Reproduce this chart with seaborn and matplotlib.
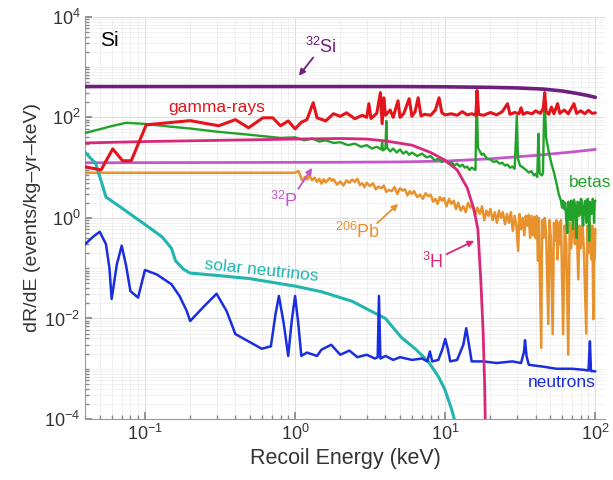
import numpy as np
import pandas as pd
import matplotlib
matplotlib.use('Agg')
import matplotlib.pyplot as plt
import seaborn as sns
from matplotlib.ticker import FixedLocator, LogFormatterMathtext, NullFormatter

# ---------------- data (keV, events/kg-yr-keV) ----------------
si32_E = [0.04, 5, 10, 20, 30, 45, 60, 75, 90, 100]
si32_R = [410, 410, 405, 395, 385, 365, 335, 300, 270, 250]

h3_E = [0.04, 0.1, 1, 2, 3, 4, 6, 8, 10, 12, 14, 15.5, 16.5, 17.3, 17.9, 18.3, 18.55]
h3_R = [31, 33, 37, 38, 37, 34, 28, 20, 14, 9, 4, 1.5, 0.6, 0.05, 0.005, 0.0005, 0.00005]

p32_E = [0.04, 2, 5, 10, 20, 40, 70, 100]
p32_R = [12.5, 12.8, 13, 13.5, 15, 17.5, 20.5, 23]

pb_E = [0.04, 1.0, 1.05, 1.08, 1.1, 1.13, 1.16, 1.2, 1.25, 1.3, 1.35, 1.4, 1.45, 1.5, 1.55,
        1.6, 1.7, 1.75, 1.8, 1.9, 2.0, 2.1, 2.2, 2.3, 2.4, 2.5, 2.6, 2.7, 2.8, 2.9, 3.0,
        3.15, 3.3, 3.45, 3.6, 3.75, 3.9, 4.05, 4.2, 4.4, 4.6, 4.8, 5.0, 5.2, 5.4, 5.6, 5.8,
        6.0, 6.2, 6.5, 6.8, 7.1, 7.4, 7.7, 8.0, 8.3, 8.6, 8.9, 9.2, 9.5, 9.8,
        10.2, 10.6, 11.0, 11.4, 11.8, 12.2, 12.7, 13.2, 13.7, 14.2, 14.7, 15.2, 15.8, 16.4,
        17.0, 17.6, 18.2, 18.8, 19.4, 20.0, 20.7, 21.4, 22.1, 22.8, 23.5, 24.2, 25.0, 25.8,
        26.6, 27.4, 28.2, 29.0, 29.8, 30.6, 31.2, 32.0, 32.8, 33.6, 34.4, 35.2, 36.0, 36.8,
        37.6, 38.4, 39.2, 40.0, 40.7, 41.5, 42, 43.6, 44.2, 45, 46, 47, 48.6, 49.5, 50.5,
        52, 53, 54, 55, 56, 57, 58, 59, 61, 62.5, 64, 66, 67.5, 69, 71, 73, 75, 77, 78.5,
        80, 82, 84, 87, 88.5, 90, 92, 94, 95.5, 97, 98, 99, 100]
pb_R = [7.9, 7.9, 8.6, 7.2, 6.0, 5.4, 6.5, 5.8, 6.9, 5.6, 6.3, 5.2, 6.0, 4.8, 5.9,
        5.1, 6.2, 5.5, 5.9, 4.6, 5.3, 4.4, 5.6, 5.0, 5.8, 5.2, 6.0, 4.5, 4.9, 4.1, 5.0,
        4.3, 4.9, 3.7, 4.2, 3.9, 4.4, 3.3, 3.6, 3.4, 4.1, 3.0, 3.9, 3.5, 3.7, 2.8, 3.4,
        3.0, 3.4, 2.6, 2.9, 2.4, 3.1, 2.7, 2.9, 2.1, 2.4, 1.9, 2.6, 2.2, 2.5,
        1.7, 2.4, 1.9, 2.2, 1.5, 2.0, 1.4, 1.7, 1.3, 2.0, 1.6, 1.9, 1.1, 1.6,
        1.2, 1.7, 0.9, 1.4, 1.1, 1.5, 0.9, 1.3, 0.8, 1.4, 1.0, 1.3, 0.75, 1.2,
        0.8, 1.3, 0.55, 1.1, 0.7, 0.22, 1.2, 0.6, 1.0, 0.45, 1.1, 0.7, 1.15, 0.4,
        1.1, 0.45, 1.05, 0.4, 1.1, 0.14, 1.0, 0.0026, 0.9, 0.4, 1.0, 0.5, 0.0077, 0.9, 0.4,
        0.0049, 0.8, 0.35, 0.9, 0.15, 0.8, 0.3, 0.9, 0.0049, 0.7, 0.3, 0.0019, 0.8, 0.25, 0.9,
        0.3, 0.8, 0.06, 0.7, 0.25, 0.8, 0.2, 0.005, 0.7, 0.2, 0.8, 0.15, 0.7, 0.0097, 0.6,
        0.15, 0.6]

beta_E = [0.04, 0.05, 0.06, 0.075, 0.1, 0.15, 0.2, 0.3, 0.5, 0.8, 1.0, 1.15, 1.3, 1.45, 1.6,
          1.8, 2.0, 2.25, 2.5, 2.75, 3.0, 3.25, 3.5, 3.75, 3.8, 3.85, 4.0, 4.05, 4.1, 4.3,
          4.5, 4.75, 5, 5.25, 5.5, 5.75, 6, 6.5, 7, 7.5, 8, 8.5, 9, 9.5, 10, 10.5, 11, 11.5,
          12, 12.5, 13, 13.5, 14, 14.5, 15, 15.9, 16.2, 16.5, 17.5, 18, 19, 20, 21, 22, 23,
          24, 25, 26, 27, 28, 29, 30.0, 30.5, 31.5, 33, 34.5, 36, 37.5, 39, 40, 41, 41.8,
          42.5, 43, 44, 44.8, 45.8, 47, 49, 51, 53, 55, 57, 59, 60, 61, 62, 63, 64, 65, 66,
          67, 68, 69, 70, 71, 72, 73, 74, 75, 76, 77, 78, 79, 80, 81, 82, 83, 84, 85, 86, 87,
          88, 89, 90, 91, 92, 93, 94, 95, 96, 97, 98, 99, 100]
beta_R = [49, 58, 67, 78, 74, 65, 60, 52, 45, 39, 40, 35, 38, 33, 35,
          31, 32, 28, 30, 26, 28, 24, 26, 23, 32, 22, 24, 85, 25, 21,
          24, 20, 23, 19, 21, 18, 20, 17, 19, 16, 17, 14, 15, 13, 14, 12, 13, 11,
          12, 10.5, 11.5, 10, 10.5, 9, 10, 9, 340, 25, 18, 19, 15, 14.5, 13, 13.5, 12,
          12.5, 11, 11.5, 10, 10.5, 9.5, 107, 15, 11, 10, 9, 8, 8.5, 7, 7.5, 6.5, 47,
          8, 7.5, 7, 7.8, 310, 40, 20, 12, 8, 5, 3, 2.2, 1.6, 2.2, 1.5, 2.0, 0.9, 0.5, 2.1,
          1.8, 0.9, 2.2, 1.4, 0.6, 2.3, 1.9, 1.0, 0.4, 2.1, 2.0, 1.1, 1.2, 2.4, 2.3, 0.9, 0.7,
          1.6, 2.1, 2.2, 0.8,
          1.0, 2.4, 1.6, 0.35, 2.1, 2.0, 1.2, 1.3, 2.4, 2.2, 0.8, 2.0, 2.2]

gam_E = [0.04, 0.051, 0.061, 0.071, 0.081, 0.102, 0.2, 0.31, 0.4, 0.49, 0.61, 0.71, 0.8,
         0.9, 1.0, 1.1, 1.2, 1.32, 1.4, 1.6, 1.8, 2.0, 2.2, 2.5, 2.8, 3.0, 3.1, 3.2, 3.5,
         3.7, 3.8, 3.9, 4.0, 4.3, 4.5, 4.85, 5.0, 5.3, 5.75, 6.0, 6.3, 6.6, 6.9, 7.3, 8.0,
         8.6, 9.1, 9.5, 10, 11, 12, 13, 14, 15, 16.0, 16.3, 16.7, 18, 20, 22, 24, 26, 27,
         29, 31, 32, 33, 35, 38, 40, 43, 45, 46, 47, 49, 51, 53, 56, 58, 62, 66, 72, 75,
         80, 85, 90, 95, 100]
gam_R = [10.4, 9.0, 23.6, 13.7, 13.7, 71, 86, 68, 90, 62, 98, 98, 68,
         85, 59, 80, 90, 196, 98, 85, 118, 105, 123, 94, 110, 100, 187, 95, 120,
         310, 75, 245, 110, 140, 100, 214, 100, 120, 235, 105, 130, 245, 107, 115, 110,
         140, 245, 123, 112, 118, 110, 130, 112, 118, 110, 340, 115, 110, 125, 112, 130, 187, 115,
         125, 118, 155, 115, 125, 118, 135, 120, 150, 310, 130, 115, 160, 118, 187, 120, 140, 118, 187, 120,
         135, 118, 138, 120, 123]

sol_E = [0.04, 0.047, 0.051, 0.055, 0.07, 0.1, 0.13, 0.15, 0.16, 0.18, 0.2, 0.3, 0.5, 1.0,
         1.5, 2.4, 3.0, 4.0, 5.1, 6.3, 7.7, 9.0, 9.9, 11, 11.5, 12.2]
sol_R = [20, 12, 5.5, 2.6, 1.58, 0.74, 0.42, 0.25, 0.14, 0.096, 0.08, 0.072, 0.062, 0.044,
         0.034, 0.022, 0.0155, 0.01, 0.0042, 0.0025, 0.0014, 0.0007, 0.0004, 0.00016, 0.0001, 0.00005]

neu_E = [0.04, 0.045, 0.05, 0.055, 0.058, 0.06, 0.065, 0.07, 0.075, 0.08, 0.09, 0.1, 0.12,
         0.15, 0.17, 0.19, 0.2, 0.25, 0.3, 0.35, 0.4, 0.6, 0.69, 0.74, 0.78, 0.84, 0.9,
         0.95, 1.0, 1.05, 1.1, 1.2, 1.4, 1.5, 1.74, 2.0, 2.3, 2.6, 3.0, 3.4, 3.55, 3.62,
         3.7, 4.0, 4.5, 5, 6, 7, 7.6, 7.9, 8.2, 9, 9.6, 10, 10.4, 10.8, 12, 13.2, 13.8,
         14.4, 15, 18, 22, 28, 32, 33.5, 34, 34.8, 36, 45, 55, 70, 85, 90, 92, 93.5, 100]
neu_R = [0.3, 0.42, 0.53, 0.3, 0.1, 0.0245, 0.12, 0.28, 0.11, 0.035, 0.026, 0.092, 0.075,
         0.048, 0.028, 0.014, 0.0089, 0.018, 0.031, 0.014, 0.0049, 0.0025, 0.0028, 0.012, 0.028,
         0.008, 0.0018, 0.009, 0.028, 0.008, 0.0018, 0.0021, 0.0018, 0.0024, 0.003, 0.0019,
         0.0023, 0.0017, 0.0019, 0.0016, 0.0017, 0.028, 0.0016, 0.0018, 0.0015, 0.0017, 0.0015,
         0.0016, 0.0014, 0.0022, 0.0014, 0.0015, 0.0025, 0.0039, 0.0025, 0.0014, 0.0015, 0.003,
         0.0064, 0.003, 0.0014, 0.0014, 0.0013, 0.0014, 0.0013, 0.0022, 0.0037, 0.0018, 0.0012,
         0.0011, 0.001, 0.001, 0.00095, 0.00092, 0.0035, 0.0009, 0.00089]

x_ticks = [0.1, 1, 10, 100]
y_ticks = [1e-4, 1e-2, 1, 1e2, 1e4]

# ---------------- style ----------------
sns.set_theme(style='ticks')
plt.rcParams['font.family'] = ['Liberation Sans', 'DejaVu Sans']
plt.rcParams['mathtext.fontset'] = 'custom'
plt.rcParams['mathtext.rm'] = 'Liberation Sans'
plt.rcParams['mathtext.it'] = 'Liberation Sans:italic'
plt.rcParams['mathtext.bf'] = 'Liberation Sans:bold'

fig = plt.figure(figsize=(6.13, 4.8), dpi=100)
ax = fig.add_axes([0.139, 0.127, 0.848, 0.838])
ax.set_xscale('log')
ax.set_yscale('log')

C_SI = '#6e1f7c'
C_G = '#e3141b'
C_B = '#22a22a'
C_H = '#d8287a'
C_P = '#c455cc'
C_PB = '#e8922e'
C_SOL = '#22b5b0'
C_N = '#1a2ee0'


def draw(E, R, color, lw, z):
    df = pd.DataFrame({'E': E, 'R': R})
    sns.lineplot(data=df, x='E', y='R', ax=ax, color=color, linewidth=lw,
                 estimator=None, sort=False, zorder=z)


draw(pb_E, pb_R, C_PB, 1.8, 3)
draw(p32_E, p32_R, C_P, 2.0, 3.5)
draw(sol_E, sol_R, C_SOL, 2.2, 4)
draw(neu_E, neu_R, C_N, 1.8, 5)
draw(beta_E, beta_R, C_B, 1.7, 6)
draw(h3_E, h3_R, C_H, 2.0, 7)
draw(gam_E, gam_R, C_G, 2.2, 8)
draw(si32_E, si32_R, C_SI, 2.6, 9)

ax.set_xlim(0.04, 116)
ax.set_ylim(1e-4, 1e4)

ax.xaxis.set_major_locator(FixedLocator(x_ticks))
ax.yaxis.set_major_locator(FixedLocator(y_ticks))
ax.xaxis.set_major_formatter(LogFormatterMathtext())
ax.yaxis.set_major_formatter(LogFormatterMathtext())
xminor = [m * 10.0 ** k for k in range(-2, 3) for m in range(2, 10)]
yminor = [m * 10.0 ** k for k in range(-5, 5) for m in range(1, 10) if not (m == 1 and k % 2 == 0)]
ax.xaxis.set_minor_locator(FixedLocator(xminor))
ax.yaxis.set_minor_locator(FixedLocator(yminor))
ax.xaxis.set_minor_formatter(NullFormatter())
ax.yaxis.set_minor_formatter(NullFormatter())

ax.grid(which='major', color='#dcdcdc', linewidth=0.7)
ax.grid(which='minor', color='#ececec', linewidth=0.5)
ax.set_axisbelow(True)
for s in ['top', 'right']:
    ax.spines[s].set_visible(False)
for s in ['left', 'bottom']:
    ax.spines[s].set_color('#9a9a9a')
    ax.spines[s].set_linewidth(0.8)
ax.tick_params(which='both', direction='in', colors='#888888', labelcolor='#333333',
               labelsize=13)
ax.tick_params(which='major', length=5)
ax.tick_params(which='minor', length=3)

ax.set_xlabel('Recoil Energy (keV)', fontsize=15.5, color='#333333', labelpad=3)
ax.set_ylabel('dR/dE (events/kg\u2013yr\u2013keV)', fontsize=14, color='#333333', labelpad=2)

# ---------------- annotations ----------------
ax.text(0.05, 3400, 'Si', fontsize=15, color='black', ha='left', va='center')
ax.text(0.30, 155, 'gamma-rays', fontsize=12.5, color=C_G, ha='center', va='center')
ax.text(128, 5.0, 'betas', fontsize=12.5, color=C_B, ha='right', va='center', clip_on=False)
ax.text(0.60, 0.088, 'solar neutrinos', fontsize=12.5, color=C_SOL, ha='center', va='center',
        rotation=-6)
ax.text(60, 0.00054, 'neutrons', fontsize=12.5, color=C_N, ha='center', va='center')

arrow_kw = dict(arrowstyle='-|>', lw=1.3, mutation_scale=9, shrinkA=0, shrinkB=0)
ax.text(1.49, 2550, r'$\mathregular{^{32}Si}$', fontsize=13, color=C_SI, ha='center', va='center')
ax.annotate('', xy=(1.06, 675), xytext=(1.32, 1550),
            arrowprops=dict(color=C_SI, **arrow_kw))
ax.text(0.845, 2.18, r'$\mathregular{^{32}P}$', fontsize=13, color=C_P, ha='center', va='center')
ax.annotate('', xy=(1.3, 9.9), xytext=(1.05, 3.78), arrowprops=dict(color=C_P, **arrow_kw))
ax.text(2.59, 0.526, r'$\mathregular{^{206}Pb}$', fontsize=13, color=C_PB, ha='center', va='center')
ax.annotate('', xy=(4.86, 1.9), xytext=(3.52, 0.79), arrowprops=dict(color=C_PB, **arrow_kw))
ax.text(8.3, 0.133, r'$\mathregular{^{3}H}$', fontsize=13, color=C_H, ha='center', va='center')
ax.annotate('', xy=(15.6, 0.35), xytext=(10.2, 0.19), arrowprops=dict(color=C_H, **arrow_kw))

fig.savefig('out.png', dpi=100)
